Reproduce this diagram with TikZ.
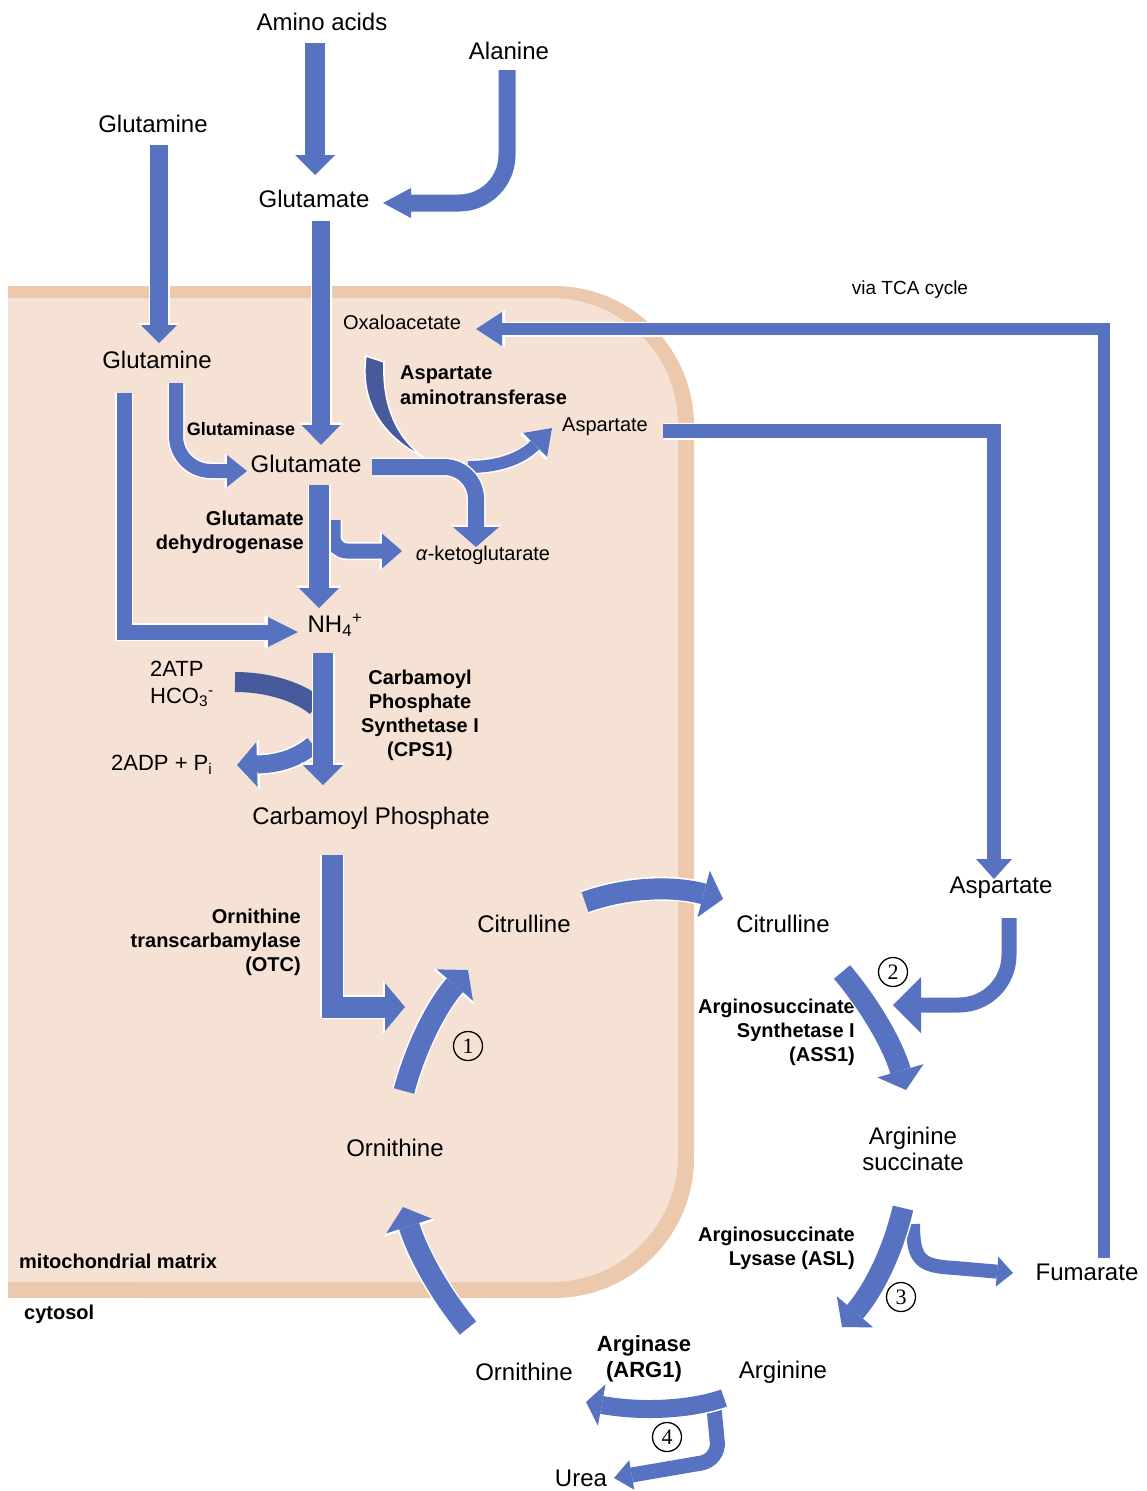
\documentclass[tikz,border=0pt]{standalone}
\usepackage{fontspec}
\setmainfont{Liberation Sans}
\newfontfamily\numfont{Liberation Serif}
\usetikzlibrary{arrows.meta}
\pgfdeclarelayer{bg}
\pgfsetlayers{bg,main}
\definecolor{flowblue}{RGB}{86,114,192}
\definecolor{darkflow}{RGB}{70,90,156}
\definecolor{membrane}{RGB}{236,201,172}
\definecolor{matrixfill}{RGB}{245,226,213}
\tikzset{
        big/.style={font=\fontsize{24}{26}\selectfont, inner sep=0pt},
        small/.style={font=\fontsize{20}{24}\selectfont, inner sep=0pt},
        enzyme/.style={font=\bfseries\fontsize{20}{24}\selectfont, inner sep=0pt},
        stepno/.style={circle, draw, line width=1.3pt, minimum size=29pt, inner sep=0pt, font=\numfont\fontsize{22}{22}\selectfont},
        flux/.style n args={3}{draw=flowblue, line width=#1,
                -{Triangle[length=#2, width=#3, line width=0pt]},
                preaction={draw=white, line width=#1+3pt, -{Triangle[length=#2, width=#3, line width=0pt, scale=1.12]}}},
        bigflow/.style={flux={20pt}{20pt}{40pt}},
        arcflow/.style={flux={21pt}{20pt}{48pt}},
        slimflow/.style={flux={12pt}{26pt}{34pt}}
}

\begin{document}
\begin{tikzpicture}[x=1pt, y=-1pt]
        \useasboundingbox (0,0) rectangle (1146,1491);
        \begin{pgfonlayer}{bg}
                \fill[membrane, rounded corners=140pt] (8,286) rectangle (694,1298);
                \fill[membrane] (8,286) rectangle (300,1298);
                \fill[matrixfill, rounded corners=127pt] (8,298) rectangle (678,1282);
                \fill[matrixfill] (8,298) rectangle (300,1282);
        \end{pgfonlayer}

        \node[big] (amino) at (322,22) {Amino acids};
        \node[big] (ala) at (509,51) {Alanine};
        \node[big] (gln0) at (153,124) {Glutamine};
        \node[big] (glu0) at (314,199) {Glutamate};
        \node[small, font=\fontsize{19}{24}\selectfont] (tca) at (910,290) {via TCA cycle};
        \node[small] (oaa) at (402,322) {Oxaloacetate};
        \node[big] (gln1) at (157,360) {Glutamine};
        \node[enzyme, anchor=west, align=left, font=\bfseries\fontsize{20}{25}\selectfont] (ast) at (400,385) {Aspartate\\aminotransferase};
        \node[small] (asp1) at (605,427) {Aspartate};
        \node[enzyme, font=\bfseries\fontsize{18}{22}\selectfont] (gls) at (241,429) {Glutaminase};
        \node[big] (glu1) at (306,464) {Glutamate};
        \node[enzyme, anchor=east, align=right] (gdh) at (304,532) {Glutamate\\dehydrogenase};
        \node[small] (akg) at (483,555) {\textit{α}-ketoglutarate};
        \node[big] (nh4) at (335,625) {NH\textsubscript{4}\textsuperscript{+}};
        \node[small, font=\fontsize{22}{27}\selectfont, anchor=west, align=left] (atp) at (150,684) {2ATP\\HCO\textsubscript{3}\textsuperscript{-}};
        \node[small, font=\fontsize{22}{27}\selectfont, anchor=west] (adp) at (111,765) {2ADP + P\textsubscript{i}};
        \node[enzyme, align=center] (cps) at (420,715) {Carbamoyl\\Phosphate\\Synthetase I\\(CPS1)};
        \node[big] (carbp) at (371,818) {Carbamoyl Phosphate};
        \node[enzyme, anchor=east, align=right] (otc) at (301,942) {Ornithine\\transcarbamylase\\(OTC)};
        \node[big] (cit0) at (524,924) {Citrulline};
        \node[big] (cit1) at (783,924) {Citrulline};
        \node[big] (asp2) at (1001,888) {Aspartate};
        \node[enzyme, anchor=east, align=right] (ass) at (855,1032) {Arginosuccinate\\Synthetase I\\(ASS1)};
        \node[big, align=center] (argsuc) at (913,1149) {Arginine\\succinate};
        \node[big] (orn0) at (395,1148) {Ornithine};
        \node[enzyme, anchor=west] (mito) at (19,1261) {mitochondrial matrix};
        \node[enzyme, anchor=west] (cyto) at (24,1314) {cytosol};
        \node[enzyme, anchor=east, align=right] (asl) at (855,1248) {Arginosuccinate\\Lysase (ASL)};
        \node[big] (fum) at (1087,1272) {Fumarate};
        \node[big] (orn1) at (524,1372) {Ornithine};
        \node[enzyme, align=center, font=\bfseries\fontsize{22}{26}\selectfont] (arg1) at (644,1359) {Arginase\\(ARG1)};
        \node[big] (arg) at (783,1372) {Arginine};
        \node[big] (urea) at (581,1478) {Urea};
        \node[stepno] (s1) at (468,1046) {1};
        \node[stepno] (s2) at (893,972) {2};
        \node[stepno] (s3) at (901,1297) {3};
        \node[stepno] (s4) at (667,1437) {4};

        \coordinate (aa0) at (315,43);    \coordinate (aa1) at (315,175);
        \coordinate (al0) at (507,70);    \coordinate (al1) at (383,203);
        \coordinate (gq0) at (159,145);   \coordinate (gq1) at (159,343);
        \coordinate (ge0) at (321,221);   \coordinate (ge1) at (321,445);
        \coordinate (gs0) at (176,383);   \coordinate (gs1) at (247,471);
        \coordinate (gn0) at (124,393);   \coordinate (gn1) at (298,632);
        \coordinate (gd0) at (319,485);   \coordinate (gd1) at (319,608);
        \coordinate (gk0) at (333,520);   \coordinate (gk1) at (402,551);
        \coordinate (at0) at (372,467);   \coordinate (at1) at (476,547);
        \coordinate (ab0) at (468,467);   \coordinate (ab1) at (552,428);
        \coordinate (tp0) at (235,682);   \coordinate (tp1) at (316,706);
        \coordinate (ad0) at (313,745);   \coordinate (ad1) at (237,765);
        \coordinate (cp0) at (323,653);   \coordinate (cp1) at (323,785);
        \coordinate (ot0) at (332,855);   \coordinate (ot1) at (405,1007);
        \coordinate (on0) at (404,1091);  \coordinate (on1) at (468,970);
        \coordinate (ci0) at (585,902);   \coordinate (ci1) at (723,899);
        \coordinate (as0) at (663,431);   \coordinate (as1) at (994,879);
        \coordinate (tc0) at (1104,1258); \coordinate (tc1) at (476,329);
        \coordinate (sa0) at (1009,918);  \coordinate (sa1) at (893,1005);
        \coordinate (ss0) at (842,972);   \coordinate (ss1) at (906,1090);
        \coordinate (sl0) at (903,1208);  \coordinate (sl1) at (842,1327);
        \coordinate (fu0) at (913,1224);  \coordinate (fu1) at (1013,1273);
        \coordinate (rg0) at (724,1398);  \coordinate (rg1) at (586,1402);
        \coordinate (ur0) at (714,1408);  \coordinate (ur1) at (614,1478);
        \coordinate (oi0) at (468,1328);  \coordinate (oi1) at (403,1207);

        \draw[bigflow] (aa0) -- (aa1);
        \draw[flux={17pt}{28pt}{30pt}, rounded corners=48pt] (al0) |- (al1);
        \draw[flux={18pt}{18pt}{36pt}] (gq0) -- (gq1);
        \draw[flux={18pt}{20pt}{39pt}] (ge0) -- (ge1);
        \draw[flux={14pt}{20pt}{32pt}, rounded corners=35pt] (gs0) |- (gs1);
        \draw[flux={15pt}{30pt}{30pt}] (gn0) |- (gn1);
        \draw[flux={15pt}{20pt}{35pt}, rounded corners=14pt] (gk0) |- (gk1);
        \draw[bigflow] (gd0) -- (gd1);
        \fill[darkflow, draw=white, line width=1.5pt] (366,356) .. controls (360,400) and (380,435) .. (423,457)
                .. controls (400,440) and (382,410) .. (384,362) -- cycle;
        \draw[flux={12pt}{24pt}{34pt}] (ab0) .. controls (505,467) and (525,455) .. (ab1);
        \draw[flux={16pt}{20pt}{46pt}, rounded corners=32pt] (at0) -| (at1);
        \draw[darkflow, line width=20pt] (tp0) .. controls (265,682) and (296,690) .. (tp1);
        \draw[flux={18pt}{20pt}{45pt}] (ad0) .. controls (295,760) and (275,764) .. (ad1);
        \draw[bigflow] (cp0) -- (cp1);
        \draw[arcflow] (ot0) |- (ot1);
        \draw[arcflow] (on0) .. controls (415,1050) and (435,1008) .. (on1);
        \draw[arcflow] (ci0) .. controls (625,888) and (670,885) .. (ci1);
        \draw[flux={14pt}{20pt}{36pt}] (as0) -| (as1);
        \draw[slimflow] (tc0) |- (tc1);
        \draw[flux={15pt}{28pt}{56pt}, rounded corners=50pt] (sa0) |- (sa1);
        \draw[arcflow] (ss0) .. controls (870,1005) and (893,1045) .. (ss1);
        \draw[flux={14pt}{16pt}{30pt}] (fu0) .. controls (913,1262) and (922,1266) .. (955,1268) -- (fu1);
        \draw[arcflow] (sl0) .. controls (892,1255) and (872,1292) .. (sl1);
        \draw[flux={15pt}{18pt}{30pt}, rounded corners=18pt] (ur0) -- (719,1460) -- (ur1);
        \draw[flux={18pt}{16pt}{42pt}] (rg0) .. controls (690,1410) and (640,1412) .. (rg1);
        \draw[arcflow] (oi0) .. controls (445,1300) and (420,1260) .. (oi1);
\end{tikzpicture}
\end{document}
